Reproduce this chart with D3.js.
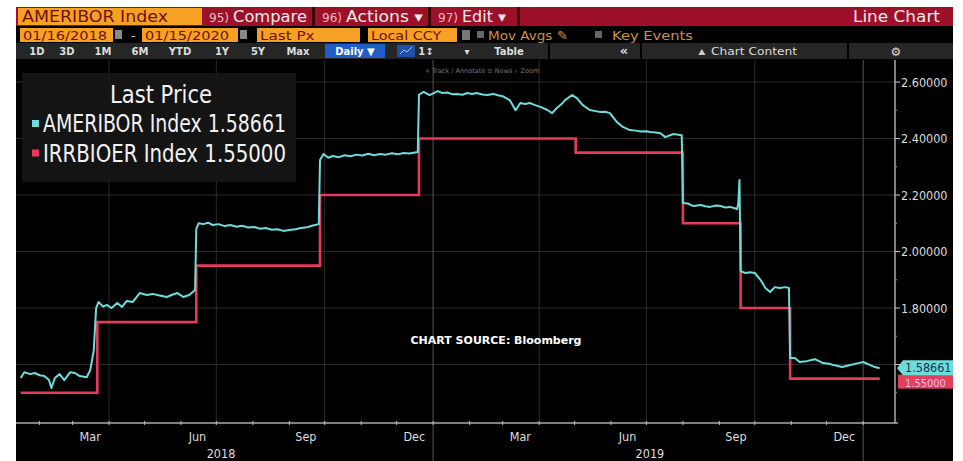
<!DOCTYPE html>
<html>
<head>
<meta charset="utf-8">
<script src="https://cdn.jsdelivr.net/npm/d3@7"></script>
<style>
  html, body { margin: 0; padding: 0; background: #fff; }
  svg { display: block; }
</style>
</head>
<body>
<div id="chart"></div>
<script>
// Datos (AMERIBOR vs IOER)
const ameriborSeries = [
  ["2018-01-16", 1.552], ["2018-01-19", 1.573], ["2018-01-24", 1.566], ["2018-01-28", 1.570],
  ["2018-02-01", 1.562], ["2018-02-05", 1.559], ["2018-02-09", 1.545], ["2018-02-11", 1.517],
  ["2018-02-14", 1.552], ["2018-02-18", 1.566], ["2018-02-22", 1.545], ["2018-02-27", 1.573],
  ["2018-03-03", 1.570], ["2018-03-07", 1.559], ["2018-03-13", 1.555], ["2018-03-16", 1.580],
  ["2018-03-19", 1.650], ["2018-03-21", 1.800], ["2018-03-23", 1.821], ["2018-03-27", 1.805],
  ["2018-03-30", 1.811], ["2018-04-03", 1.800], ["2018-04-08", 1.818], ["2018-04-12", 1.804],
  ["2018-04-16", 1.825], ["2018-04-21", 1.821], ["2018-04-27", 1.853], ["2018-05-03", 1.846],
  ["2018-05-08", 1.850], ["2018-05-12", 1.846], ["2018-05-20", 1.839], ["2018-05-25", 1.848],
  ["2018-05-29", 1.853], ["2018-06-03", 1.839], ["2018-06-08", 1.846], ["2018-06-13", 1.864],
  ["2018-06-14", 2.080], ["2018-06-16", 2.100], ["2018-06-20", 2.097], ["2018-06-24", 2.102],
  ["2018-06-28", 2.094], ["2018-07-03", 2.097], ["2018-07-08", 2.090], ["2018-07-13", 2.094],
  ["2018-07-18", 2.088], ["2018-07-23", 2.091], ["2018-07-28", 2.085], ["2018-08-02", 2.087],
  ["2018-08-07", 2.081], ["2018-08-12", 2.083], ["2018-08-17", 2.077], ["2018-08-22", 2.079],
  ["2018-08-27", 2.073], ["2018-09-01", 2.076], ["2018-09-06", 2.079], ["2018-09-11", 2.083],
  ["2018-09-16", 2.086], ["2018-09-21", 2.092], ["2018-09-26", 2.097], ["2018-09-27", 2.324],
  ["2018-09-30", 2.345], ["2018-10-04", 2.332], ["2018-10-08", 2.338], ["2018-10-13", 2.334],
  ["2018-10-18", 2.341], ["2018-10-23", 2.337], ["2018-10-28", 2.343], ["2018-11-02", 2.340],
  ["2018-11-07", 2.346], ["2018-11-12", 2.341], ["2018-11-17", 2.345], ["2018-11-22", 2.343],
  ["2018-11-27", 2.348], ["2018-12-02", 2.344], ["2018-12-07", 2.349], ["2018-12-12", 2.347],
  ["2018-12-19", 2.352], ["2018-12-20", 2.555], ["2018-12-24", 2.565], ["2018-12-29", 2.554],
  ["2019-01-05", 2.568], ["2019-01-09", 2.561], ["2019-01-13", 2.563], ["2019-01-17", 2.557],
  ["2019-01-21", 2.558], ["2019-01-26", 2.555], ["2019-01-30", 2.561], ["2019-02-03", 2.558],
  ["2019-02-07", 2.561], ["2019-02-12", 2.556], ["2019-02-16", 2.554], ["2019-02-21", 2.558],
  ["2019-02-25", 2.553], ["2019-03-01", 2.550], ["2019-03-07", 2.536], ["2019-03-12", 2.500],
  ["2019-03-16", 2.526], ["2019-03-20", 2.522], ["2019-03-24", 2.526], ["2019-03-28", 2.519],
  ["2019-04-02", 2.512], ["2019-04-08", 2.501], ["2019-04-12", 2.490], ["2019-04-16", 2.508],
  ["2019-04-20", 2.522], ["2019-04-23", 2.536], ["2019-04-29", 2.554], ["2019-05-03", 2.543],
  ["2019-05-08", 2.518], ["2019-05-14", 2.501], ["2019-05-19", 2.497], ["2019-05-23", 2.494],
  ["2019-05-27", 2.495], ["2019-05-31", 2.490], ["2019-06-06", 2.458], ["2019-06-11", 2.441],
  ["2019-06-17", 2.430], ["2019-06-22", 2.428], ["2019-06-26", 2.425], ["2019-07-01", 2.426],
  ["2019-07-04", 2.423], ["2019-07-09", 2.421], ["2019-07-13", 2.419], ["2019-07-17", 2.405],
  ["2019-07-24", 2.416], ["2019-07-31", 2.412], ["2019-08-01", 2.172], ["2019-08-05", 2.170],
  ["2019-08-10", 2.161], ["2019-08-16", 2.165], ["2019-08-20", 2.160], ["2019-08-24", 2.158],
  ["2019-08-29", 2.163], ["2019-09-02", 2.161], ["2019-09-06", 2.156], ["2019-09-10", 2.158],
  ["2019-09-14", 2.153], ["2019-09-16", 2.150], ["2019-09-17", 2.170], ["2019-09-18", 2.253],
  ["2019-09-19", 1.930], ["2019-09-23", 1.924], ["2019-09-27", 1.927], ["2019-10-01", 1.924],
  ["2019-10-06", 1.899], ["2019-10-10", 1.871], ["2019-10-14", 1.857], ["2019-10-18", 1.874],
  ["2019-10-22", 1.871], ["2019-10-27", 1.874], ["2019-10-30", 1.871], ["2019-10-31", 1.623],
  ["2019-11-04", 1.623], ["2019-11-08", 1.609], ["2019-11-14", 1.612], ["2019-11-21", 1.619],
  ["2019-11-28", 1.605], ["2019-12-03", 1.603], ["2019-12-07", 1.598], ["2019-12-14", 1.591],
  ["2019-12-21", 1.598], ["2019-12-28", 1.605], ["2020-01-01", 1.609], ["2020-01-07", 1.598],
  ["2020-01-11", 1.591], ["2020-01-15", 1.58661]
];

const ioerSteps = [
  ["2018-01-16", 1.50], ["2018-03-22", 1.75], ["2018-06-14", 1.95], ["2018-09-27", 2.20],
  ["2018-12-20", 2.40], ["2019-05-02", 2.35], ["2019-08-01", 2.10], ["2019-09-19", 1.80],
  ["2019-10-31", 1.55], ["2020-01-15", 1.55]
];

const seriesNames = ["AMERIBOR Index", "IRRBIOER Index"];
const lastPrices = [1.58661, 1.55];
const seriesColors = ["#6fdcdc", "#e8395a"];

const yTicks = [1.6, 1.8, 2.0, 2.2, 2.4, 2.6];
const yMinorTicks = [1.5, 1.7, 1.9, 2.1, 2.3, 2.5];
const monthLabels = [
  ["2018-03-16", "Mar"], ["2018-06-15", "Jun"], ["2018-09-15", "Sep"], ["2018-12-16", "Dec"],
  ["2019-03-16", "Mar"], ["2019-06-15", "Jun"], ["2019-09-15", "Sep"], ["2019-12-16", "Dec"]
];
const yearLabels = [["2018-07-05", "2018"], ["2019-07-04", "2019"]];

const parseDate = d3.timeParse("%Y-%m-%d");

function drawChart() {
  const width = 963;
  const height = 461;
  const plot = { left: 16, right: 895, top: 60, bottom: 423 };

  const svg = d3.select('#chart').append('svg')
    .attr('width', width)
    .attr('height', height);

  // Panel negro
  svg.append('rect')
    .attr('x', 16).attr('y', 7)
    .attr('width', 937).attr('height', 454)
    .attr('fill', '#000');

  // Escalas
  const xScale = d3.scaleTime()
    .domain([parseDate("2018-01-12"), parseDate("2020-01-28")])
    .range([plot.left, plot.right]);

  const yScale = d3.scaleLinear()
    .domain([1.393, 2.678])
    .range([plot.bottom, plot.top]);

  // Rejilla
  const grid = svg.append('g');
  grid.selectAll('.hgrid')
    .data(yTicks)
    .enter()
    .append('line')
    .attr('x1', plot.left).attr('x2', plot.right)
    .attr('y1', d => yScale(d)).attr('y2', d => yScale(d))
    .attr('stroke', '#2c2c2c');

  const quarters = d3.timeMonth.every(3).range(parseDate("2018-03-01"), parseDate("2020-01-20"));
  grid.selectAll('.vgrid')
    .data(quarters)
    .enter()
    .append('line')
    .attr('x1', d => xScale(d)).attr('x2', d => xScale(d))
    .attr('y1', plot.top)
    .attr('y2', d => d.getMonth() === 0 ? height : plot.bottom)
    .attr('stroke', d => d.getMonth() === 0 ? '#555' : '#2c2c2c');

  // Fuente
  svg.append('text')
    .attr('x', 496).attr('y', 344)
    .attr('text-anchor', 'middle')
    .attr('fill', '#fff')
    .attr('font-family', 'DejaVu Sans, sans-serif')
    .attr('font-size', '11px')
    .attr('font-weight', 'bold')
    .text('CHART SOURCE: Bloomberg');

  // Líneas
  svg.append('clipPath').attr('id', 'plotClip')
    .append('rect')
    .attr('x', plot.left).attr('y', plot.top)
    .attr('width', plot.right - plot.left).attr('height', plot.bottom - plot.top);

  const lines = svg.append('g').attr('clip-path', 'url(#plotClip)');

  const stepLine = d3.line()
    .x(d => xScale(parseDate(d[0])))
    .y(d => yScale(d[1]))
    .curve(d3.curveStepAfter);

  const plainLine = d3.line()
    .x(d => xScale(parseDate(d[0])))
    .y(d => yScale(d[1]));

  lines.append('path')
    .datum(ioerSteps)
    .attr('d', stepLine)
    .attr('fill', 'none')
    .attr('stroke', seriesColors[1])
    .attr('stroke-width', 2.6);

  lines.append('path')
    .datum(ameriborSeries)
    .attr('d', plainLine)
    .attr('fill', 'none')
    .attr('stroke', seriesColors[0])
    .attr('stroke-width', 2)
    .attr('stroke-linejoin', 'round');

  // Eje X
  const axisX = svg.append('g');
  axisX.append('line')
    .attr('x1', plot.left).attr('x2', plot.right + 3)
    .attr('y1', plot.bottom).attr('y2', plot.bottom)
    .attr('stroke', '#aaa').attr('stroke-width', 1.5);

  const months = d3.timeMonth.range(parseDate("2018-02-01"), parseDate("2020-01-20"));
  axisX.selectAll('.mtick')
    .data(months)
    .enter()
    .append('line')
    .attr('x1', d => xScale(d)).attr('x2', d => xScale(d))
    .attr('y1', plot.bottom - 2).attr('y2', plot.bottom + 2)
    .attr('stroke', '#bbb');

  axisX.selectAll('.mlabel')
    .data(monthLabels)
    .enter()
    .append('text')
    .attr('x', d => xScale(parseDate(d[0])))
    .attr('y', 441)
    .attr('text-anchor', 'middle')
    .attr('fill', '#ddd')
    .attr('font-family', 'DejaVu Sans Condensed, DejaVu Sans, sans-serif')
    .attr('font-size', '12.5px')
    .text(d => d[1]);

  axisX.selectAll('.ylabel')
    .data(yearLabels)
    .enter()
    .append('text')
    .attr('x', d => xScale(parseDate(d[0])))
    .attr('y', 458)
    .attr('text-anchor', 'middle')
    .attr('fill', '#ddd')
    .attr('font-family', 'DejaVu Sans Condensed, DejaVu Sans, sans-serif')
    .attr('font-size', '12.5px')
    .text(d => d[1]);

  // Eje Y (derecha)
  const axisY = svg.append('g');
  axisY.append('line')
    .attr('x1', plot.right).attr('x2', plot.right)
    .attr('y1', plot.top).attr('y2', plot.bottom)
    .attr('stroke', '#aaa').attr('stroke-width', 1.5);

  axisY.selectAll('.ytick')
    .data(yTicks)
    .enter()
    .append('line')
    .attr('x1', plot.right).attr('x2', plot.right + 5)
    .attr('y1', d => yScale(d)).attr('y2', d => yScale(d))
    .attr('stroke', '#ccc');

  axisY.selectAll('.yminor')
    .data(yMinorTicks)
    .enter()
    .append('line')
    .attr('x1', plot.right).attr('x2', plot.right + 2)
    .attr('y1', d => yScale(d)).attr('y2', d => yScale(d))
    .attr('stroke', '#999');

  // La etiqueta 1.60000 queda tapada por la del último valor
  axisY.selectAll('.ylab')
    .data(yTicks.filter(d => d > 1.7))
    .enter()
    .append('text')
    .attr('x', plot.right + 6)
    .attr('y', d => yScale(d) + 4.5)
    .attr('fill', '#ddd')
    .attr('font-family', 'DejaVu Sans Condensed, DejaVu Sans, sans-serif')
    .attr('font-size', '12.5px')
    .text(d => d3.format('.5f')(d));

  // Etiquetas del último valor
  const fmt = d3.format('.5f');
  const tagRed = yScale(lastPrices[1]);
  svg.append('rect')
    .attr('x', 898).attr('y', tagRed - 4)
    .attr('width', 55).attr('height', 14)
    .attr('fill', '#e0405c');
  svg.append('text')
    .attr('x', 905).attr('y', tagRed + 8.5)
    .attr('fill', '#fbe')
    .attr('font-family', 'DejaVu Sans Condensed, DejaVu Sans, sans-serif')
    .attr('font-size', '11px')
    .text(fmt(lastPrices[1]));

  const tagCyan = yScale(lastPrices[0]);
  svg.append('path')
    .attr('d', `M897,${tagCyan} L903,${tagCyan - 8} L953,${tagCyan - 8} L953,${tagCyan + 7} L903,${tagCyan + 7} Z`)
    .attr('fill', '#6fdcdc');
  svg.append('text')
    .attr('x', 905).attr('y', tagCyan + 4)
    .attr('fill', '#0b3b44')
    .attr('font-family', 'DejaVu Sans Condensed, DejaVu Sans, sans-serif')
    .attr('font-size', '12.5px')
    .text(fmt(lastPrices[0]));

  // Leyenda
  const legend = svg.append('g');
  legend.append('rect')
    .attr('x', 22).attr('y', 73)
    .attr('width', 274).attr('height', 109)
    .attr('fill', '#161616')
    .attr('opacity', 0.9);

  legend.append('text')
    .attr('x', 161).attr('y', 103)
    .attr('text-anchor', 'middle')
    .attr('fill', '#f2f2f2')
    .attr('font-family', 'DejaVu Sans Condensed, DejaVu Sans, sans-serif')
    .attr('font-size', '24px')
    .attr('textLength', 102)
    .attr('lengthAdjust', 'spacingAndGlyphs')
    .text('Last Price');

  seriesNames.forEach((name, i) => {
    const yy = 132 + i * 29.5;
    legend.append('rect')
      .attr('x', 32).attr('y', yy - 12)
      .attr('width', 7).attr('height', 7)
      .attr('fill', seriesColors[i]);
    legend.append('text')
      .attr('x', 43).attr('y', yy)
      .attr('fill', '#f2f2f2')
      .attr('font-family', 'DejaVu Sans Condensed, DejaVu Sans, sans-serif')
      .attr('font-size', '25px')
      .attr('textLength', 243)
      .attr('lengthAdjust', 'spacingAndGlyphs')
      .text(`${name} ${fmt(lastPrices[i])}`);
  });

  drawHeader(svg);
}

function addText(g, x, y, str, opts) {
  const t = g.append('text')
    .attr('x', x).attr('y', y)
    .attr('fill', opts.fill || '#fff')
    .attr('font-family', opts.family || 'DejaVu Sans, sans-serif')
    .attr('font-size', opts.size || '13px')
    .attr('font-weight', opts.weight || 'normal')
    .attr('text-anchor', opts.anchor || 'start')
    .text(str);
  if (opts.len) {
    t.attr('textLength', opts.len).attr('lengthAdjust', 'spacingAndGlyphs');
  }
  return t;
}

function drawHeader(svg) {
  const g = svg.append('g');
  const orange = '#f6a024';
  const maroon = '#6e1208';

  // Fila 1
  g.append('rect').attr('x', 16).attr('y', 7).attr('width', 937).attr('height', 19).attr('fill', '#9c1029');
  g.append('rect').attr('x', 18).attr('y', 8).attr('width', 184).attr('height', 17).attr('fill', orange);
  addText(g, 22, 22, 'AMERIBOR Index', { fill: maroon, size: '15px', len: 146 });
  [312, 428, 517].forEach(x => {
    g.append('rect').attr('x', x).attr('y', 7).attr('width', 3).attr('height', 19).attr('fill', '#3a0008');
  });
  addText(g, 209, 22, '95)', { fill: '#f6b6c0', size: '13px', len: 20 });
  addText(g, 233, 22, 'Compare', { fill: '#f4e8ea', size: '15px', len: 74 });
  addText(g, 322, 22, '96)', { fill: '#f6b6c0', size: '13px', len: 20 });
  addText(g, 346, 22, 'Actions \u25BE', { fill: '#f4e8ea', size: '15px', len: 77 });
  addText(g, 438, 22, '97)', { fill: '#f6b6c0', size: '13px', len: 20 });
  addText(g, 462, 22, 'Edit \u25BE', { fill: '#f4e8ea', size: '15px', len: 44 });
  addText(g, 853, 22, 'Line Chart', { fill: '#f4e8ea', size: '15px', len: 87 });

  // Fila 2
  const boxes = [[20, 93, '01/16/2018'], [142, 96, '01/15/2020'], [257, 103, 'Last Px'], [368, 89, 'Local CCY']];
  boxes.forEach(b => {
    g.append('rect').attr('x', b[0]).attr('y', 28).attr('width', b[1]).attr('height', 14).attr('fill', orange);
    addText(g, b[0] + 3, 40, b[2], { fill: maroon, size: '13px', len: b[2].length === 10 ? 84 : b[2].length * 7.8 });
  });
  [115, 240].forEach(x => {
    g.append('rect').attr('x', x).attr('y', 30).attr('width', 7).attr('height', 9).attr('fill', '#888');
  });
  addText(g, 131, 40, '-', { fill: '#ccc', size: '13px' });
  g.append('rect').attr('x', 462).attr('y', 30).attr('width', 8).attr('height', 10).attr('fill', '#777');
  g.append('rect').attr('x', 477).attr('y', 31).attr('width', 7).attr('height', 7).attr('fill', '#666');
  addText(g, 488, 40, 'Mov Avgs \u270E', { fill: '#c8924a', size: '13px', len: 80 });
  g.append('rect').attr('x', 595).attr('y', 31).attr('width', 7).attr('height', 7).attr('fill', '#666');
  addText(g, 612, 40, 'Key Events', { fill: '#c8924a', size: '13px', len: 81 });

  // Fila 3
  g.append('rect').attr('x', 16).attr('y', 43).attr('width', 937).attr('height', 16).attr('fill', '#262626');
  [548, 640, 847].forEach(x => {
    g.append('rect').attr('x', x).attr('y', 43).attr('width', 2).attr('height', 16).attr('fill', '#000');
  });
  const periods = [[37, '1D'], [67, '3D'], [103, '1M'], [140, '6M'], [180, 'YTD'], [222, '1Y'], [258, '5Y'], [298, 'Max']];
  periods.forEach(p => addText(g, p[0], 55, p[1], { fill: '#ddd', size: '10px', weight: 'bold', anchor: 'middle' }));
  g.append('rect').attr('x', 325).attr('y', 44).attr('width', 60).attr('height', 14).attr('fill', '#1f5ec8');
  addText(g, 355, 55, 'Daily \u25BC', { fill: '#fff', size: '10px', weight: 'bold', anchor: 'middle' });
  g.append('rect').attr('x', 397).attr('y', 45).attr('width', 18).attr('height', 12).attr('fill', '#1f4fa8');
  g.append('path').attr('d', 'M400,54 L404,50 L407,52 L412,47').attr('stroke', '#9cf').attr('fill', 'none');
  addText(g, 426, 55, '1\u2195', { fill: '#ddd', size: '10px', weight: 'bold', anchor: 'middle' });
  addText(g, 467, 55, '\u25BE', { fill: '#ddd', size: '10px', anchor: 'middle' });
  addText(g, 509, 55, 'Table', { fill: '#ddd', size: '10px', weight: 'bold', anchor: 'middle' });
  addText(g, 624, 55, '\u00AB', { fill: '#ddd', size: '13px', weight: 'bold', anchor: 'middle' });
  addText(g, 702, 55, '\u26F0', { fill: '#ccc', size: '9px', anchor: 'middle' });
  addText(g, 711, 55, 'Chart Content', { fill: '#ddd', size: '11px', len: 86 });
  addText(g, 896, 56, '\u2699', { fill: '#ddd', size: '12px', anchor: 'middle' });

  // Fila 4 (herramientas)
  addText(g, 482, 73, '+ Track  \u2215 Annotate  \u2261 News  \u2315 Zoom', { fill: '#777', size: '6.5px', anchor: 'middle' });
}

drawChart();
</script>
</body>
</html>
